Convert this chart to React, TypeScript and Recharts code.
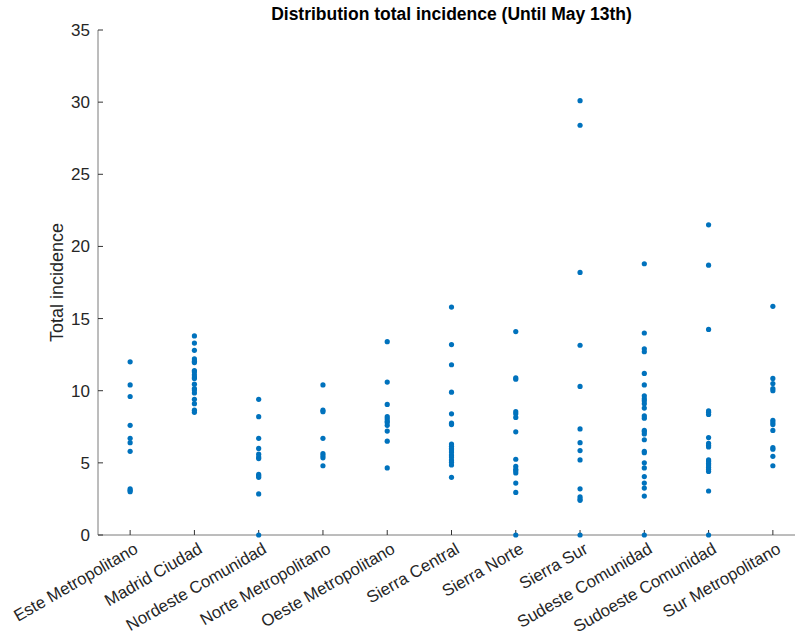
import React from "react";
import { ScatterChart, Scatter, XAxis, YAxis, ZAxis, Label } from "recharts";

const regions = [
  "Este Metropolitano",
  "Madrid Ciudad",
  "Nordeste Comunidad",
  "Norte Metropolitano",
  "Oeste Metropolitano",
  "Sierra Central",
  "Sierra Norte",
  "Sierra Sur",
  "Sudeste Comunidad",
  "Sudoeste Comunidad",
  "Sur Metropolitano",
];

const esteMetropolitano = [12.0, 10.4, 9.6, 7.6, 6.7, 6.4, 5.8, 3.2, 3.1, 3.0];
const madridCiudad = [
  13.8, 13.3, 12.8, 12.2, 12.05, 11.95, 11.4, 11.3, 11.1, 10.95, 10.85, 10.45,
  10.15, 10.05, 9.85, 9.4, 9.1, 8.65, 8.5,
];
const nordesteComunidad = [9.4, 8.2, 6.7, 6.0, 5.6, 5.4, 5.3, 4.2, 4.1, 4.0, 2.85, 0];
const norteMetropolitano = [10.4, 8.65, 8.55, 6.7, 5.65, 5.5, 5.35, 4.8];
const oesteMetropolitano = [13.4, 10.6, 9.05, 8.2, 8.05, 7.9, 7.8, 7.6, 7.2, 6.5, 4.65];
const sierraCentral = [
  15.8, 13.2, 11.8, 9.9, 8.4, 7.75, 7.65, 6.3, 6.15, 6.0, 5.9, 5.75, 5.55, 5.4,
  5.2, 5.05, 4.85, 4.0,
];
const sierraNorte = [
  14.1, 10.9, 10.8, 8.55, 8.4, 8.15, 7.15, 5.25, 4.75, 4.55, 4.45, 4.3, 3.6,
  2.95, 0,
];
const sierraSur = [30.1, 28.4, 18.2, 13.15, 10.3, 7.35, 6.4, 5.85, 5.2, 3.2, 2.65, 2.5, 2.4, 0];
const sudesteComunidad = [
  18.8, 14.0, 12.9, 12.7, 11.2, 10.4, 9.65, 9.45, 9.3, 9.1, 8.8, 8.25, 8.1,
  7.25, 7.15, 7.0, 6.6, 5.8, 5.7, 5.0, 4.65, 4.05, 3.6, 3.25, 2.7, 0,
];
const sudoesteComunidad = [
  21.5, 18.7, 14.25, 8.6, 8.5, 8.35, 6.75, 6.35, 6.2, 6.1, 5.2, 5.1, 4.95,
  4.85, 4.7, 4.55, 4.4, 3.05, 0,
];
const surMetropolitano = [
  15.85, 10.85, 10.5, 10.15, 10.0, 7.95, 7.8, 7.65, 7.25, 6.05, 5.95, 5.45, 4.8,
];

const seriesValues = [
  esteMetropolitano,
  madridCiudad,
  nordesteComunidad,
  norteMetropolitano,
  oesteMetropolitano,
  sierraCentral,
  sierraNorte,
  sierraSur,
  sudesteComunidad,
  sudoesteComunidad,
  surMetropolitano,
];

const yTicks = [0, 5, 10, 15, 20, 25, 30, 35];
const xTicks = regions.map((_, i) => i + 1);

const points = seriesValues.flatMap((vals, i) =>
  vals.map((v) => ({ x: i + 1, y: v }))
);

const FONT = "'Liberation Sans', Helvetica, Arial, sans-serif";
const AXIS = "#7a7a7a";
const TEXT = "#262626";

function RegionTick(props: any) {
  const { x, y, payload } = props;
  const label = regions[payload.value - 1] ?? "";
  return (
    <g transform={`translate(${x + 6},${y})`}>
      <text
        x={0}
        y={0}
        dy="0.35em"
        textAnchor="end"
        transform="rotate(-30)"
        fontSize={16.8}
        fill={TEXT}
        fontFamily={FONT}
      >
        {label}
      </text>
    </g>
  );
}

export default function App() {
  return (
    <div
      style={{
        position: "absolute",
        left: 0,
        top: 0,
        width: 795,
        height: 639,
        overflow: "hidden",
        background: "#fff",
        fontFamily: FONT,
      }}
    >
      <div
        style={{
          position: "absolute",
          left: 98,
          width: 707,
          top: 4,
          textAlign: "center",
          fontWeight: "bold",
          fontSize: 17.5,
          color: "#000",
        }}
      >
        Distribution total incidence (Until May 13th)
      </div>
      <ScatterChart
        width={820}
        height={639}
        margin={{ top: 30, right: 15, left: 0, bottom: 0 }}
      >
        <XAxis
          type="number"
          dataKey="x"
          domain={[0.5, 11.5]}
          ticks={xTicks}
          interval={0}
          height={104}
          tickSize={-5}
          tickMargin={17}
          tick={<RegionTick />}
          stroke={AXIS}
          tickLine={{ stroke: "#333" }}
        />
        <YAxis
          type="number"
          dataKey="y"
          domain={[0, 35]}
          ticks={yTicks}
          interval={0}
          width={98}
          tickSize={-5}
          tickMargin={13}
          stroke={AXIS}
          tickLine={{ stroke: "#333" }}
          tick={{ fontSize: 17, fill: TEXT, fontFamily: FONT }}
        >
          <Label
            content={(p: any) => {
              const vb = p.viewBox || {};
              const cy = (vb.y ?? 30) + (vb.height ?? 505) / 2;
              return (
                <text
                  x={57}
                  y={cy}
                  transform={`rotate(-90, 57, ${cy})`}
                  textAnchor="middle"
                  dominantBaseline="central"
                  fontSize={18}
                  fill={TEXT}
                  fontFamily={FONT}
                >
                  Total incidence
                </text>
              );
            }}
          />
        </YAxis>
        <ZAxis range={[20, 20]} />
        <Scatter
          data={points}
          fill="#0072BD"
          isAnimationActive={false}
          shape={(p: any) => <circle cx={p.cx} cy={p.cy} r={2.6} fill="#0072BD" />}
        />
      </ScatterChart>
    </div>
  );
}
